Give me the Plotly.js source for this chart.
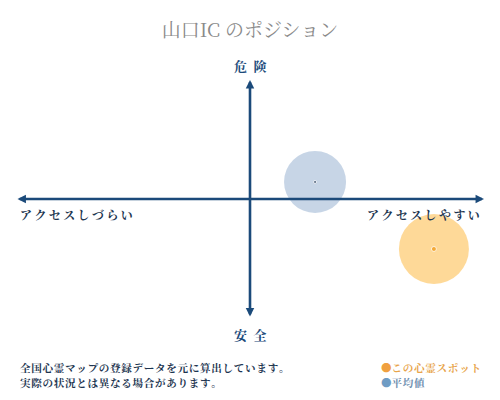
<!DOCTYPE html>
<html>
<head>
<meta charset="utf-8">
<script src="https://cdn.plot.ly/plotly-3.0.1.min.js"></script>
<style>
  body { margin: 0; background: #fff; }
  #chart { width: 500px; height: 400px; }
</style>
</head>
<body>
<div id="chart"></div>
<script>
// values (axis runs -1 .. 1 both ways)
var spots = ['この心霊スポット', '平均値'];
var access = [0.786, 0.278];   // + = easy to reach
var danger = [-0.42, 0.143];   // + = dangerous

var navy = '#1b4a7a';
var ink = '#1d3550';
var serif = '"Noto Serif CJK JP", "Noto Sans CJK JP", serif';

// spread characters a bit, like the original lettering
function spaced(s, gap) {
    return s.split('').join(gap || '\u200A');
}

var bubbles = {
    x: [access[1], access[0]],
    y: [danger[1], danger[0]],
    mode: 'markers',
    type: 'scatter',
    hoverinfo: 'skip',
    marker: {
        size: [62, 70],
        color: ['rgba(110,145,190,0.55)', 'rgba(253,188,72,0.8)'],
        line: { width: 0 }
    }
};

var dots = {
    x: [access[1], access[0]],
    y: [danger[1], danger[0]],
    mode: 'markers',
    type: 'scatter',
    hoverinfo: 'skip',
    marker: { size: [3, 5], color: ['#1b2f4a', '#f0960f'] }
};

function axisArrow(x, y, ax, ay) {
    return {
        x: x, y: y, ax: ax, ay: ay,
        xref: 'x', yref: 'y', axref: 'x', ayref: 'y',
        text: '', showarrow: true,
        arrowhead: 2, arrowside: 'end+start',
        arrowsize: 0.65, arrowwidth: 2.6, arrowcolor: navy
    };
}

function label(text, x, y, xanchor, size, color) {
    return {
        text: text, x: x, y: y, xref: 'paper', yref: 'paper',
        xanchor: xanchor, yanchor: 'middle', showarrow: false,
        font: { family: serif, size: size, color: color, weight: 'bold' }
    };
}

var layout = {
    width: 500,
    height: 400,
    margin: { l: 16, r: 16, t: 80, b: 82 },
    paper_bgcolor: '#fff',
    plot_bgcolor: '#fff',
    showlegend: false,
    title: {
        text: '山口IC のポジション',
        x: 0.5, xanchor: 'center', y: 0.925, yanchor: 'middle',
        font: { family: serif, size: 19, color: '#8a8a8a' }
    },
    xaxis: { range: [-1, 1], visible: false, fixedrange: true },
    yaxis: { range: [-1, 1], visible: false, fixedrange: true },
    annotations: [
        axisArrow(1, 0, -1, 0),
        axisArrow(0, 1, 0, -1),
        label('危\u2002険', 0.5, 1.059, 'center', 13, navy),
        label('安\u2002全', 0.5, -0.071, 'center', 13, navy),
        label(spaced('アクセスしづらい', '\u2009'), 0.005, 0.433, 'left', 12, ink),
        label(spaced('アクセスしやすい', '\u2009'), 0.995, 0.433, 'right', 12, ink),
        label(spaced('全国心霊マップの登録データを元に算出しています。'), 0.004, -0.21, 'left', 10.6, ink),
        label(spaced('実際の状況とは異なる場合があります。'), 0.004, -0.273, 'left', 10.6, ink),
        label('<span style="color:#f0a040">●</span>' + spaced(spots[0]), 0.775, -0.21, 'left', 10.6, '#e8a44a'),
        label('<span style="color:#6f9cc4">●</span>' + spaced(spots[1]), 0.775, -0.273, 'left', 10.6, '#6f8fb0')
    ]
};

Plotly.newPlot(document.getElementById('chart'), [bubbles, dots], layout, { displayModeBar: false, staticPlot: true });
</script>
</body>
</html>
